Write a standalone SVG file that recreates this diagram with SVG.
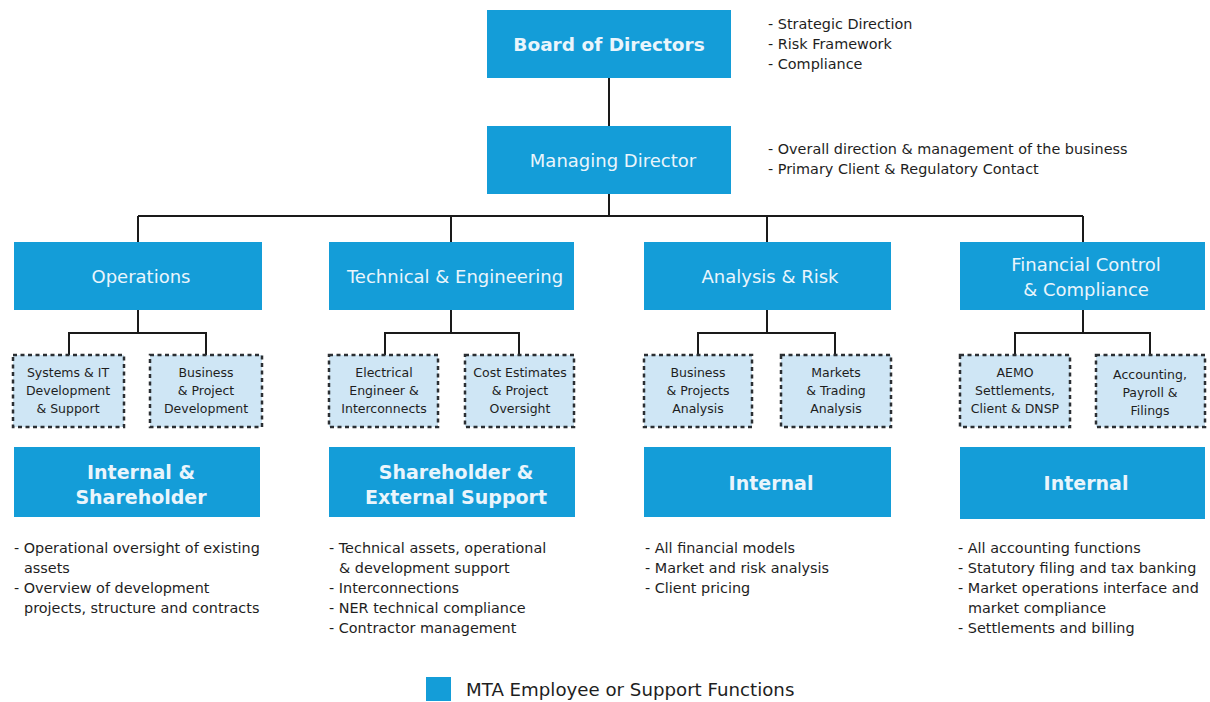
<svg xmlns="http://www.w3.org/2000/svg" width="1210" height="702" viewBox="0 0 1210 702">
  <style>
    .box { fill: #149dd8; }
    .sub { fill: #cfe6f5; stroke: #2b2f33; stroke-width: 2.5; stroke-dasharray: 4 3.5; }
    .wire { fill: none; stroke: #1a1a1a; stroke-width: 2; }
    .t { font-family: "DejaVu Sans", Verdana, sans-serif; fill: #eaf5fc; text-anchor: middle; }
    .tb { font-family: "DejaVu Sans", Verdana, sans-serif; fill: #eaf5fc; text-anchor: middle; font-weight: bold; font-size: 19px; }
    .h2 { font-size: 18px; }
    .s { font-family: "DejaVu Sans", Verdana, sans-serif; fill: #1e1e1e; text-anchor: middle; font-size: 12.5px; }
    .note { font-family: "DejaVu Sans", Verdana, sans-serif; fill: #1e1e1e; font-size: 14.4px; }
  </style>
  <rect width="1210" height="702" fill="#ffffff"/>

  <g id="connectors">
    <path class="wire" d="M609 78V126M609 194V216M138 216H1083M138 216V242M451 216V242M767 216V242M1083 216V242"/>
    <path class="wire" d="M138 310V333M69 355V333H206V355"/>
    <path class="wire" d="M451 310V333M385 355V333H519V355"/>
    <path class="wire" d="M767 310V333M698 355V333H835V355"/>
    <path class="wire" d="M1083 310V333M1015 355V333H1150V355"/>
  </g>

  <g id="board">
    <rect class="box" x="487" y="10" width="244" height="68"/>
    <text class="tb" x="609" y="51" style="font-size:18.5px">Board of Directors</text>
    <text class="note" x="768" y="29">- Strategic Direction</text>
    <text class="note" x="768" y="49">- Risk Framework</text>
    <text class="note" x="768" y="69">- Compliance</text>
  </g>

  <g id="managing-director">
    <rect class="box" x="487" y="126" width="244" height="68"/>
    <text class="t h2" x="613" y="167">Managing Director</text>
    <text class="note" x="768" y="154">- Overall direction &amp; management of the business</text>
    <text class="note" x="768" y="174">- Primary Client &amp; Regulatory Contact</text>
  </g>

  <g id="operations">
    <rect class="box" x="14" y="242" width="248" height="68"/>
    <text class="t h2" x="141" y="283">Operations</text>
  </g>
  <g id="technical">
    <rect class="box" x="329" y="242" width="245" height="68"/>
    <text class="t h2" x="455" y="283">Technical &amp; Engineering</text>
  </g>
  <g id="analysis">
    <rect class="box" x="644" y="242" width="247" height="68"/>
    <text class="t h2" x="770" y="283">Analysis &amp; Risk</text>
  </g>
  <g id="financial">
    <rect class="box" x="960" y="242" width="245" height="68"/>
    <text class="t h2" x="1086" y="271">Financial Control</text>
    <text class="t h2" x="1086" y="296">&amp; Compliance</text>
  </g>

  <g id="systems-it">
    <rect class="sub" x="13" y="355" width="111" height="72"/>
    <text class="s" x="68" y="377">Systems &amp; IT</text>
    <text class="s" x="68" y="395">Development</text>
    <text class="s" x="68" y="413">&amp; Support</text>
  </g>
  <g id="business-project">
    <rect class="sub" x="150" y="355" width="112" height="72"/>
    <text class="s" x="206" y="377">Business</text>
    <text class="s" x="206" y="395">&amp; Project</text>
    <text class="s" x="206" y="413">Development</text>
  </g>
  <g id="electrical">
    <rect class="sub" x="329" y="355" width="109" height="72"/>
    <text class="s" x="384" y="377">Electrical</text>
    <text class="s" x="384" y="395">Engineer &amp;</text>
    <text class="s" x="384" y="413">Interconnects</text>
  </g>
  <g id="cost-estimates">
    <rect class="sub" x="465" y="355" width="109" height="72"/>
    <text class="s" x="520" y="377">Cost Estimates</text>
    <text class="s" x="520" y="395">&amp; Project</text>
    <text class="s" x="520" y="413">Oversight</text>
  </g>
  <g id="business-projects-analysis">
    <rect class="sub" x="644" y="355" width="108" height="72"/>
    <text class="s" x="698" y="377">Business</text>
    <text class="s" x="698" y="395">&amp; Projects</text>
    <text class="s" x="698" y="413">Analysis</text>
  </g>
  <g id="markets-trading">
    <rect class="sub" x="781" y="355" width="110" height="72"/>
    <text class="s" x="836" y="377">Markets</text>
    <text class="s" x="836" y="395">&amp; Trading</text>
    <text class="s" x="836" y="413">Analysis</text>
  </g>
  <g id="aemo">
    <rect class="sub" x="960" y="355" width="110" height="72"/>
    <text class="s" x="1015" y="377">AEMO</text>
    <text class="s" x="1015" y="395">Settlements,</text>
    <text class="s" x="1015" y="413">Client &amp; DNSP</text>
  </g>
  <g id="accounting">
    <rect class="sub" x="1096" y="355" width="109" height="72"/>
    <text class="s" x="1150" y="379">Accounting,</text>
    <text class="s" x="1150" y="397">Payroll &amp;</text>
    <text class="s" x="1150" y="415">Filings</text>
  </g>

  <g id="internal-shareholder">
    <rect class="box" x="14" y="447" width="246" height="70"/>
    <text class="tb" x="141" y="479">Internal &amp;</text>
    <text class="tb" x="141" y="504">Shareholder</text>
    <text class="note" x="14" y="553">- Operational oversight of existing</text>
    <text class="note" x="24" y="573">assets</text>
    <text class="note" x="14" y="593">- Overview of development</text>
    <text class="note" x="24" y="613">projects, structure and contracts</text>
  </g>
  <g id="shareholder-external">
    <rect class="box" x="329" y="447" width="246" height="70"/>
    <text class="tb" x="456" y="479">Shareholder &amp;</text>
    <text class="tb" x="456" y="504">External Support</text>
    <text class="note" x="329" y="553">- Technical assets, operational</text>
    <text class="note" x="339" y="573">&amp; development support</text>
    <text class="note" x="329" y="593">- Interconnections</text>
    <text class="note" x="329" y="613">- NER technical compliance</text>
    <text class="note" x="329" y="633">- Contractor management</text>
  </g>
  <g id="internal-analysis">
    <rect class="box" x="644" y="447" width="247" height="70"/>
    <text class="tb" x="771" y="490">Internal</text>
    <text class="note" x="645" y="553">- All financial models</text>
    <text class="note" x="645" y="573">- Market and risk analysis</text>
    <text class="note" x="645" y="593">- Client pricing</text>
  </g>
  <g id="internal-financial">
    <rect class="box" x="960" y="447" width="245" height="72"/>
    <text class="tb" x="1086" y="490">Internal</text>
    <text class="note" x="958" y="553">- All accounting functions</text>
    <text class="note" x="958" y="573">- Statutory filing and tax banking</text>
    <text class="note" x="958" y="593">- Market operations interface and</text>
    <text class="note" x="968" y="613">market compliance</text>
    <text class="note" x="958" y="633">- Settlements and billing</text>
  </g>

  <g id="legend">
    <rect class="box" x="426" y="677" width="25" height="24"/>
    <text class="note" x="466" y="696" style="font-size:18.2px">MTA Employee or Support Functions</text>
  </g>
</svg>
